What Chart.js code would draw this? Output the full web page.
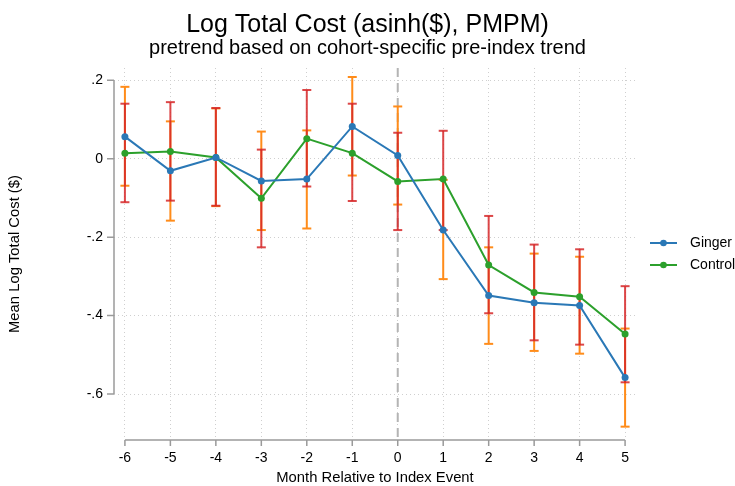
<!DOCTYPE html>
<html>
<head>
<meta charset="utf-8">
<script src="https://cdn.jsdelivr.net/npm/chart.js@4"></script>
<style>
  html, body { margin: 0; padding: 0; background: #fff; }
</style>
</head>
<body>
<canvas id="chart" width="735" height="486"></canvas>
<script>
// values
const months = [-6, -5, -4, -3, -2, -1, 0, 1, 2, 3, 4, 5];

const ginger   = [0.056, -0.031, 0.003, -0.057, -0.052, 0.082, 0.008, -0.182, -0.349, -0.367, -0.374, -0.558];
const gingerLo = [-0.069, -0.158, -0.121, -0.182, -0.178, -0.043, -0.117, -0.307, -0.472, -0.490, -0.497, -0.683];
const gingerHi = [0.183, 0.095, 0.128, 0.069, 0.072, 0.208, 0.133, -0.054, -0.226, -0.242, -0.250, -0.433];

const control   = [0.014, 0.018, 0.003, -0.101, 0.051, 0.014, -0.058, -0.052, -0.271, -0.341, -0.352, -0.447];
const controlLo = [-0.111, -0.107, -0.120, -0.226, -0.071, -0.108, -0.182, -0.182, -0.394, -0.463, -0.474, -0.570];
const controlHi = [0.140, 0.144, 0.129, 0.023, 0.175, 0.140, 0.066, 0.071, -0.146, -0.219, -0.231, -0.325];

const yTicks = [0.2, 0, -0.2, -0.4, -0.6];
const xTicks = months;

const FONT = "Helvetica, 'Liberation Sans', Arial, sans-serif";
const BLUE = '#2a78b6';
const GREEN = '#2ca02c';
const ORANGE = '#ff8c1a';
const RED = 'rgba(214, 39, 40, 0.85)';
const AXIS = '#9a9a9a';

// legend marker: line with a dot in the middle
function legendMark(color) {
  const c = document.createElement('canvas');
  c.width = 27; c.height = 8;
  const g = c.getContext('2d');
  g.strokeStyle = color; g.lineWidth = 2;
  g.beginPath(); g.moveTo(0, 4); g.lineTo(27, 4); g.stroke();
  g.fillStyle = color;
  g.beginPath(); g.arc(13.5, 4, 3.3, 0, Math.PI * 2); g.fill();
  return c;
}

// error bars as broken line segments: lo -> hi, then a gap
function ciPoints(lo, hi) {
  const pts = [];
  months.forEach((m, i) => {
    pts.push({ x: m, y: lo[i] });
    pts.push({ x: m, y: hi[i] });
    pts.push({ x: m, y: null });
  });
  return pts;
}

const decor = {
  id: 'decor',
  beforeDatasetsDraw(chart) {
    const { ctx, chartArea, scales } = chart;
    const x0 = scales.x.getPixelForValue(0);
    ctx.save();
    ctx.strokeStyle = '#b4b4b4';
    ctx.lineWidth = 2;
    ctx.setLineDash([9, 6]);
    ctx.beginPath();
    ctx.moveTo(x0, chartArea.top);
    ctx.lineTo(x0, chartArea.bottom);
    ctx.stroke();
    ctx.restore();
  },
  afterDraw(chart) {
    const { ctx, chartArea, scales } = chart;
    const x = scales.x, y = scales.y;
    ctx.save();
    ctx.strokeStyle = AXIS;
    ctx.lineWidth = 1.5;
    // y axis line over tick range
    ctx.beginPath();
    ctx.moveTo(chartArea.left, y.getPixelForValue(yTicks[0]));
    ctx.lineTo(chartArea.left, y.getPixelForValue(yTicks[yTicks.length - 1]));
    yTicks.forEach(v => {
      const p = y.getPixelForValue(v);
      ctx.moveTo(chartArea.left - 7, p);
      ctx.lineTo(chartArea.left, p);
    });
    // x axis line over tick range
    ctx.moveTo(x.getPixelForValue(xTicks[0]), chartArea.bottom);
    ctx.lineTo(x.getPixelForValue(xTicks[xTicks.length - 1]), chartArea.bottom);
    xTicks.forEach(v => {
      const p = x.getPixelForValue(v);
      ctx.moveTo(p, chartArea.bottom);
      ctx.lineTo(p, chartArea.bottom + 6);
    });
    ctx.stroke();
    ctx.restore();
  }
};

new Chart(document.getElementById('chart').getContext('2d'), {
  type: 'line',
  data: {
    datasets: [
      {
        label: 'Ginger',
        data: months.map((m, i) => ({ x: m, y: ginger[i] })),
        borderColor: BLUE,
        backgroundColor: BLUE,
        borderWidth: 2,
        pointRadius: 3.5,
        pointBorderWidth: 0,
        order: 0
      },
      {
        label: 'Control',
        data: months.map((m, i) => ({ x: m, y: control[i] })),
        borderColor: GREEN,
        backgroundColor: GREEN,
        borderWidth: 2,
        pointRadius: 3.5,
        pointBorderWidth: 0,
        order: 1
      },
      {
        label: 'Control CI',
        data: ciPoints(controlLo, controlHi),
        borderColor: RED,
        borderWidth: 2,
        pointStyle: 'line',
        pointRadius: 4.5,
        pointBorderWidth: 2,
        spanGaps: false,
        order: 2
      },
      {
        label: 'Ginger CI',
        data: ciPoints(gingerLo, gingerHi),
        borderColor: ORANGE,
        borderWidth: 2,
        pointStyle: 'line',
        pointRadius: 4.5,
        pointBorderWidth: 2,
        spanGaps: false,
        order: 3
      }
    ]
  },
  options: {
    responsive: false,
    animation: false,
    layout: { padding: 0 },
    elements: { line: { tension: 0 } },
    plugins: {
      tooltip: { enabled: false },
      title: {
        display: true,
        text: 'Log Total Cost (asinh($), PMPM)',
        color: '#000',
        font: { family: FONT, size: 25, weight: 'normal', lineHeight: 1 },
        padding: { top: 13, bottom: 0.5 }
      },
      subtitle: {
        display: true,
        text: 'pretrend based on cohort-specific pre-index trend',
        color: '#000',
        font: { family: FONT, size: 20, weight: 'normal', lineHeight: 1 },
        padding: { top: 0, bottom: 9.5 }
      },
      legend: {
        position: 'right',
        align: 'center',
        maxWidth: 99,
        title: {
          // empty title only pushes the centred items down a little
          display: true,
          text: '',
          color: '#000',
          font: { size: 10, lineHeight: 1 },
          padding: { top: 6, bottom: 6 }
        },
        labels: {
          color: '#000',
          font: { family: FONT, size: 14 },
          usePointStyle: true,
          pointStyleWidth: 39,
          padding: 8,
          generateLabels: () => [
            { text: 'Ginger', fontColor: '#000', pointStyle: legendMark(BLUE), fillStyle: BLUE, strokeStyle: BLUE, lineWidth: 0, datasetIndex: 0, hidden: false },
            { text: 'Control', fontColor: '#000', pointStyle: legendMark(GREEN), fillStyle: GREEN, strokeStyle: GREEN, lineWidth: 0, datasetIndex: 1, hidden: false }
          ]
        }
      }
    },
    scales: {
      x: {
        type: 'linear',
        min: -6.24,
        max: 5.24,
        afterBuildTicks: s => { s.ticks = xTicks.map(v => ({ value: v })); },
        afterFit: s => { s.height = 46; },
        grid: { color: '#cfcfcf', lineWidth: 1, drawTicks: false },
        border: { display: false, dash: [1, 3] },
        ticks: {
          color: '#000',
          font: { family: FONT, size: 14 },
          padding: 10,
          maxRotation: 0,
          callback: v => String(v)
        },
        title: {
          display: true,
          text: 'Month Relative to Index Event',
          color: '#000',
          font: { family: FONT, size: 14.8, lineHeight: 1.1 },
          padding: { top: 2, bottom: 0 }
        }
      },
      y: {
        min: -0.717,
        max: 0.231,
        afterBuildTicks: s => { s.ticks = yTicks.map(v => ({ value: v })); },
        afterFit: s => { s.width = 114; },
        grid: { color: '#cfcfcf', lineWidth: 1, drawTicks: false },
        border: { display: false, dash: [1, 3] },
        ticks: {
          color: '#000',
          font: { family: FONT, size: 14 },
          padding: 11,
          callback: v => (v === 0 ? '0' : String(v).replace('0.', '.'))
        },
        title: {
          display: true,
          text: 'Mean Log Total Cost ($)',
          color: '#000',
          font: { family: FONT, size: 14.8 },
          padding: { top: 6, bottom: 0 }
        }
      }
    }
  },
  plugins: [decor]
});
</script>
</body>
</html>
